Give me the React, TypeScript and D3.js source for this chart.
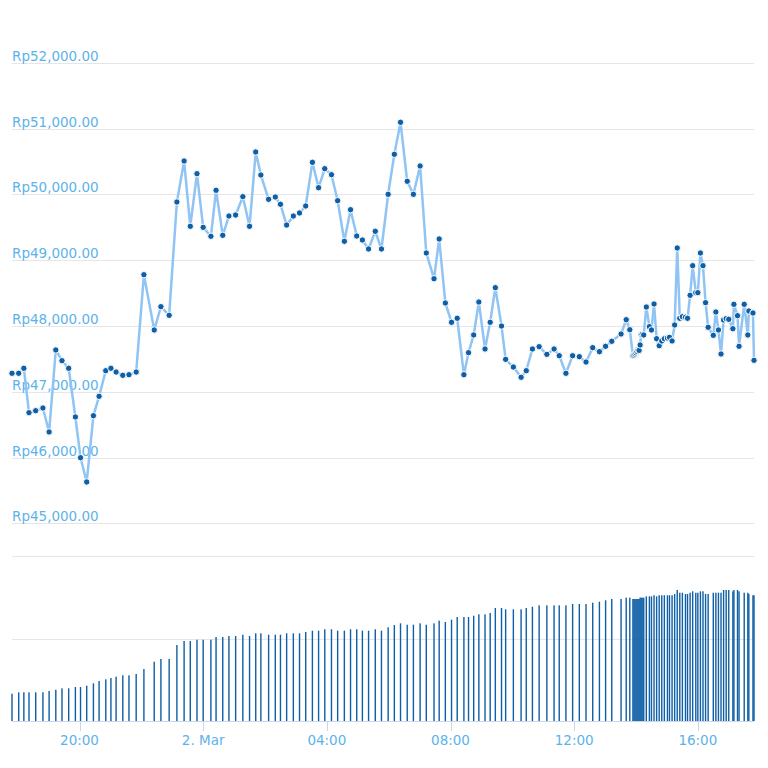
import React, { useEffect, useRef } from 'react';
import * as d3 from 'd3';

// Time of each sample (1 Mar -> 2 Mar)
const times: string[] = [
    '03-01 17:49', '03-01 18:02', '03-01 18:12', '03-01 18:22', '03-01 18:35', '03-01 18:49', '03-01 19:01', '03-01 19:14',
    '03-01 19:26', '03-01 19:39', '03-01 19:52', '03-01 20:02', '03-01 20:14', '03-01 20:27', '03-01 20:38', '03-01 20:51',
    '03-01 21:01', '03-01 21:11', '03-01 21:24', '03-01 21:36', '03-01 21:50', '03-01 22:05', '03-01 22:25', '03-01 22:38',
    '03-01 22:54', '03-01 23:09', '03-01 23:23', '03-01 23:35', '03-01 23:48', '03-02 00:00', '03-02 00:15', '03-02 00:25',
    '03-02 00:38', '03-02 00:50', '03-02 01:03', '03-02 01:17', '03-02 01:30', '03-02 01:42', '03-02 01:52', '03-02 02:07',
    '03-02 02:20', '03-02 02:30', '03-02 02:42', '03-02 02:55', '03-02 03:07', '03-02 03:19', '03-02 03:32', '03-02 03:44',
    '03-02 03:56', '03-02 04:09', '03-02 04:21', '03-02 04:34', '03-02 04:46', '03-02 04:58', '03-02 05:09', '03-02 05:21',
    '03-02 05:34', '03-02 05:46', '03-02 05:59', '03-02 06:11', '03-02 06:23', '03-02 06:36', '03-02 06:48', '03-02 07:01',
    '03-02 07:13', '03-02 07:28', '03-02 07:38', '03-02 07:50', '03-02 08:02', '03-02 08:13', '03-02 08:26', '03-02 08:35',
    '03-02 08:45', '03-02 08:55', '03-02 09:07', '03-02 09:17', '03-02 09:27', '03-02 09:39', '03-02 09:47', '03-02 10:02',
    '03-02 10:17', '03-02 10:27', '03-02 10:39', '03-02 10:52', '03-02 11:07', '03-02 11:21', '03-02 11:31', '03-02 11:44',
    '03-02 11:57', '03-02 12:10', '03-02 12:23', '03-02 12:36', '03-02 12:49', '03-02 13:01', '03-02 13:13', '03-02 13:31',
    '03-02 13:41', '03-02 13:48', '03-02 13:54', '03-02 13:56', '03-02 13:58', '03-02 14:00', '03-02 14:02', '03-02 14:04',
    '03-02 14:06', '03-02 14:08', '03-02 14:10', '03-02 14:12', '03-02 14:15', '03-02 14:20', '03-02 14:26', '03-02 14:30',
    '03-02 14:35', '03-02 14:40', '03-02 14:45', '03-02 14:50', '03-02 14:55', '03-02 15:01', '03-02 15:05', '03-02 15:10',
    '03-02 15:15', '03-02 15:20', '03-02 15:25', '03-02 15:30', '03-02 15:36', '03-02 15:40', '03-02 15:45', '03-02 15:50',
    '03-02 15:56', '03-02 16:00', '03-02 16:05', '03-02 16:10', '03-02 16:15', '03-02 16:20', '03-02 16:30', '03-02 16:35',
    '03-02 16:40', '03-02 16:45', '03-02 16:50', '03-02 16:55', '03-02 17:00', '03-02 17:08', '03-02 17:10', '03-02 17:17',
    '03-02 17:20', '03-02 17:30', '03-02 17:37', '03-02 17:39', '03-02 17:47', '03-02 17:49',
];

// Price in Rp
const prices: number[] = [
    47280, 47280, 47356, 46681, 46711, 46752, 46388, 47634,
    47471, 47356, 46616, 45997, 45628, 46635, 46930, 47319,
    47356, 47299, 47249, 47258, 47299, 48778, 47938, 48292,
    48161, 49883, 50506, 49514, 50313, 49498, 49362, 50061,
    49377, 49670, 49685, 49964, 49514, 50643, 50293, 49924,
    49959, 49848, 49533, 49670, 49716, 49822, 50486, 50100,
    50389, 50298, 49903, 49286, 49766, 49366, 49305, 49169,
    49438, 49169, 50000, 50608, 51094, 50198, 50000, 50430,
    49108, 48717, 49321, 48348, 48055, 48116, 47258, 47593,
    47862, 48363, 47649, 48055, 48581, 47998, 47492, 47375,
    47219, 47319, 47649, 47684, 47568, 47649, 47547, 47280,
    47547, 47532, 47451, 47669, 47608, 47690, 47766, 47877,
    48094, 47942, 47547, 47556, 47572, 47590, 47612, 47634,
    47628, 47710, 47866, 47870, 47862, 48287, 47988, 47938,
    48333, 47805, 47699, 47771, 47805, 47816, 47826, 47771,
    48014, 49184, 48116, 48140, 48131, 48116, 48465, 48915,
    48505, 48505, 49108, 48915, 48353, 47979, 47857, 48211,
    47938, 47573, 48090, 48110, 48100, 47957, 48328, 48155,
    47690, 48328, 47862, 48226, 48196, 47477,
];

// Volume (arbitrary units, axis top = 200)
const volumes: number[] = [
    33.1, 34.8, 34.8, 34.8, 34.8, 34.8, 36.4, 37.9,
    39.6, 39.6, 41.2, 41.2, 42.8, 45.7, 48.5, 50.5,
    52.1, 53.7, 55.4, 55.4, 57.0, 63.0, 71.9, 75.2,
    75.2, 92.1, 97.0, 97.0, 98.5, 98.5, 98.5, 101.8,
    101.8, 103.0, 103.0, 104.6, 103.0, 106.3, 106.3, 104.6,
    104.6, 104.6, 106.3, 106.3, 106.3, 107.9, 109.5, 109.5,
    111.2, 111.2, 109.5, 109.5, 111.2, 111.2, 109.5, 109.5,
    111.2, 109.5, 113.6, 116.4, 118.4, 116.7, 116.7, 118.4,
    116.7, 118.4, 121.6, 120.0, 122.8, 126.1, 126.1, 126.1,
    127.6, 129.3, 129.3, 130.9, 137.0, 137.0, 135.4, 135.4,
    135.4, 137.0, 138.5, 140.2, 140.2, 140.2, 140.2, 140.2,
    141.8, 141.8, 141.8, 143.4, 144.6, 146.3, 147.9, 147.9,
    149.5, 149.5, 147.9, 147.9, 147.9, 147.9, 147.9, 147.9,
    147.9, 149.5, 149.5, 149.5, 149.5, 151.1, 151.1, 151.1,
    152.4, 151.1, 152.4, 152.4, 152.4, 152.4, 152.4, 152.4,
    153.9, 158.8, 155.5, 155.5, 153.9, 153.9, 155.5, 157.2,
    155.5, 155.5, 157.2, 157.2, 153.9, 153.9, 155.5, 155.5,
    155.5, 155.5, 158.8, 158.8, 158.8, 157.2, 158.8, 158.8,
    157.2, 155.5, 155.5, 153.9, 152.4, 152.4,
];

const priceTicks = [45000, 46000, 47000, 48000, 49000, 50000, 51000, 52000];
const volumeTicks = [0, 100, 200];

const FONT = '"DejaVu Sans", Verdana, sans-serif';
const LABEL = '#5cb3ea';
const GRID = '#e6e6e6';

const App: React.FC = () => {
    const svgRef = useRef<SVGSVGElement>(null);

    useEffect(() => {
        if (!svgRef.current) return;
        const svg = d3.select(svgRef.current);
        svg.selectAll('*').remove();

        const parse = d3.timeParse('%m-%d %H:%M');
        const data = times.map((t, i) => ({ t: parse(t)!, p: prices[i], v: volumes[i] }));

        const left = 12, right = 754;
        const x = d3.scaleTime()
            .domain(d3.extent(data, d => d.t) as [Date, Date])
            .range([left, right]);

        const yPrice = d3.scaleLinear().domain([45000, 52000]).range([523.3, 62.7]);
        const yVol = d3.scaleLinear().domain([0, 200]).range([721, 556]);

        // volume grid
        svg.append('g').selectAll('line')
            .data(volumeTicks.filter(d => d > 0))
            .join('line')
            .attr('x1', left).attr('x2', right)
            .attr('y1', d => Math.round(yVol(d)) + 0.5).attr('y2', d => Math.round(yVol(d)) + 0.5)
            .attr('stroke', GRID).attr('stroke-width', 1);

        // price grid + labels
        const pg = svg.append('g');
        pg.selectAll('line')
            .data(priceTicks)
            .join('line')
            .attr('x1', left).attr('x2', right)
            .attr('y1', d => Math.round(yPrice(d)) + 0.5).attr('y2', d => Math.round(yPrice(d)) + 0.5)
            .attr('stroke', GRID).attr('stroke-width', 1);

        const fmt = d3.format(',.2f');
        pg.selectAll('text')
            .data(priceTicks)
            .join('text')
            .attr('x', left)
            .attr('y', d => yPrice(d) - 2)
            .attr('fill', LABEL)
            .style('font-family', FONT)
            .style('font-size', '13.5px')
            .text(d => 'Rp' + fmt(d));

        // volume columns
        const bw = 1.4;
        svg.append('g').selectAll('rect')
            .data(data)
            .join('rect')
            .attr('x', d => x(d.t) - bw / 2)
            .attr('y', d => yVol(d.v))
            .attr('width', bw)
            .attr('height', d => yVol(0) - yVol(d.v))
            .attr('fill', '#0e5fa6');

        // x axis
        const xg = svg.append('g');
        xg.append('line')
            .attr('x1', left).attr('x2', right)
            .attr('y1', 721.5).attr('y2', 721.5)
            .attr('stroke', '#ccd6eb').attr('stroke-width', 1);

        const xTicks = x.ticks(d3.timeHour.every(4)!);
        const fmtHour = d3.timeFormat('%H:%M');
        const fmtDay = d3.timeFormat('%-d. %b');
        xg.selectAll('.tick')
            .data(xTicks)
            .join('line')
            .attr('class', 'tick')
            .attr('x1', d => Math.round(x(d)) + 0.5).attr('x2', d => Math.round(x(d)) + 0.5)
            .attr('y1', 721).attr('y2', 731)
            .attr('stroke', '#ccd6eb').attr('stroke-width', 1);
        xg.selectAll('text')
            .data(xTicks)
            .join('text')
            .attr('x', d => x(d))
            .attr('y', 745)
            .attr('text-anchor', 'middle')
            .attr('fill', LABEL)
            .style('font-family', FONT)
            .style('font-size', '13.5px')
            .text(d => (d.getHours() === 0 ? fmtDay(d) : fmtHour(d)));

        // price line
        const line = d3.line<typeof data[number]>()
            .x(d => x(d.t))
            .y(d => yPrice(d.p));
        svg.append('path')
            .datum(data)
            .attr('d', line)
            .attr('fill', 'none')
            .attr('stroke', '#90c4f4')
            .attr('stroke-width', 2.5)
            .attr('stroke-linejoin', 'round')
            .attr('stroke-linecap', 'round');

        svg.append('g').selectAll('circle')
            .data(data)
            .join('circle')
            .attr('cx', d => x(d.t))
            .attr('cy', d => yPrice(d.p))
            .attr('r', 3.2)
            .attr('fill', '#0e5fa6')
            .attr('stroke', '#ffffff')
            .attr('stroke-width', 1);
    }, []);

    return (
        <div style={{ position: 'absolute', left: 0, top: 0, width: 768, height: 768, background: '#fff' }}>
            <svg ref={svgRef} width={768} height={768} style={{ display: 'block' }} />
        </div>
    );
};

export default App;
